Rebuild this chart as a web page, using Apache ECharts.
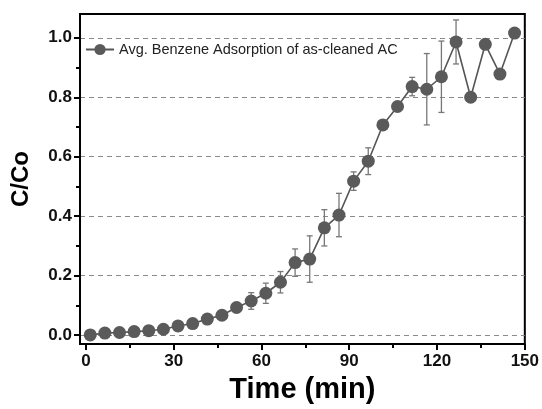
<!DOCTYPE html>
<html>
<head>
<meta charset="utf-8">
<script src="https://cdn.jsdelivr.net/npm/echarts@6/dist/echarts.min.js"></script>
<style>
html,body{margin:0;padding:0;background:#fff;}
#chart{width:542px;height:409px;}
</style>
</head>
<body>
<div id="chart"></div>
<script>
var times = [1.5, 6.5, 11.5, 16.5, 21.5, 26.5, 31.5, 36.5, 41.5, 46.5, 51.5, 56.5, 61.5, 66.5, 71.5, 76.5, 81.5, 86.5, 91.5, 96.5, 101.5, 106.5, 111.5, 116.5, 121.5, 126.5, 131.5, 136.5, 141.5, 146.5];
var ratio = [0.001, 0.007, 0.009, 0.012, 0.015, 0.020, 0.031, 0.039, 0.054, 0.067, 0.093, 0.115, 0.141, 0.178, 0.244, 0.256, 0.361, 0.404, 0.518, 0.585, 0.707, 0.769, 0.836, 0.827, 0.869, 0.986, 0.800, 0.978, 0.878, 1.016];
var errors = [0, 0, 0, 0, 0, 0, 0, 0, 0, 0, 0, 0.028, 0.034, 0.036, 0.046, 0.078, 0.061, 0.073, 0.031, 0.045, 0, 0, 0.031, 0.120, 0.120, 0.074, 0, 0, 0, 0];
var xMajorTicks = [0, 30, 60, 90, 120, 150];
var xMinorTicks = [15, 45, 75, 105, 135];
var yMajorTicks = [0, 0.2, 0.4, 0.6, 0.8, 1.0];
var yMinorTicks = [0.1, 0.3, 0.5, 0.7, 0.9];
var seriesName = 'Avg. Benzene Adsorption of as-cleaned AC';

var lineData = times.map(function (t, i) { return [t, ratio[i]]; });
var errData = times.map(function (t, i) { return [t, ratio[i] - errors[i], ratio[i] + errors[i]]; });

var FONT = '"Liberation Sans", Arial, sans-serif';
var chart = echarts.init(document.getElementById('chart'), null, {renderer: 'canvas'});

var xBase = {
  type: 'value', min: -2, max: 150, position: 'bottom'
};
var yBase = {
  type: 'value', min: -0.03, max: 1.08, position: 'left'
};

chart.setOption({
  animation: false,
  backgroundColor: '#ffffff',
  grid: {
    left: 80, right: 17, top: 14, bottom: 64,
    show: true, borderColor: '#000', borderWidth: 2, backgroundColor: 'transparent'
  },
  legend: {
    show: true,
    left: 85, top: 42, padding: 0,
    itemWidth: 28, itemHeight: 14, itemGap: 5,
    data: [seriesName],
    textStyle: {fontFamily: FONT, fontSize: 14.5, color: '#222'}
  },
  xAxis: [
    Object.assign({}, xBase, {
      name: 'Time (min)', nameLocation: 'middle', nameGap: 27,
      nameTextStyle: {fontFamily: FONT, fontSize: 29, fontWeight: 'bold', color: '#000'},
      axisLine: {show: true, onZero: false, lineStyle: {color: '#000', width: 2}},
      axisTick: {show: true, inside: false, length: 6, customValues: xMajorTicks, lineStyle: {color: '#000', width: 2}},
      axisLabel: {show: true, customValues: xMajorTicks, margin: 9, fontFamily: FONT, fontSize: 17, fontWeight: 'bold', color: '#111'},
      splitLine: {show: false}
    }),
    Object.assign({}, xBase, {
      axisLine: {show: false, onZero: false},
      axisTick: {show: true, inside: false, length: 4, customValues: xMinorTicks, lineStyle: {color: '#000', width: 2}},
      axisLabel: {show: false},
      splitLine: {show: false}
    })
  ],
  yAxis: [
    Object.assign({}, yBase, {
      name: 'C/Co', nameLocation: 'middle', nameGap: 47,
      nameTextStyle: {fontFamily: FONT, fontSize: 24, fontWeight: 'bold', color: '#000'},
      axisLine: {show: true, onZero: false, lineStyle: {color: '#000', width: 2}},
      axisTick: {show: true, inside: false, length: 6, customValues: yMajorTicks, lineStyle: {color: '#000', width: 2}},
      axisLabel: {show: true, customValues: yMajorTicks, margin: 8, fontFamily: FONT, fontSize: 17, fontWeight: 'bold', color: '#111',
        formatter: function (v) { return v.toFixed(1); }},
      splitLine: {show: true, lineStyle: {color: '#8a8a8a', width: 1, type: [5, 4]}}
    }),
    Object.assign({}, yBase, {
      axisLine: {show: false, onZero: false},
      axisTick: {show: true, inside: false, length: 4, customValues: yMinorTicks, lineStyle: {color: '#000', width: 2}},
      axisLabel: {show: false},
      splitLine: {show: false}
    })
  ],
  series: [
    {
      type: 'custom',
      name: 'err',
      xAxisIndex: 0, yAxisIndex: 0,
      z: 1,
      data: errData,
      renderItem: function (params, api) {
        var x = api.value(0), lo = api.value(1), hi = api.value(2);
        if (hi - lo <= 0) { return null; }
        var pLo = api.coord([x, lo]);
        var pHi = api.coord([x, hi]);
        var w = 3;
        var style = {stroke: '#777', lineWidth: 1.3};
        return {
          type: 'group',
          children: [
            {type: 'line', shape: {x1: pLo[0], y1: pLo[1], x2: pHi[0], y2: pHi[1]}, style: style},
            {type: 'line', shape: {x1: pLo[0] - w, y1: pLo[1], x2: pLo[0] + w, y2: pLo[1]}, style: style},
            {type: 'line', shape: {x1: pHi[0] - w, y1: pHi[1], x2: pHi[0] + w, y2: pHi[1]}, style: style}
          ]
        };
      }
    },
    {
      type: 'line',
      name: seriesName,
      xAxisIndex: 0, yAxisIndex: 0,
      z: 3,
      data: lineData,
      symbol: 'circle',
      symbolSize: 13,
      showAllSymbol: true,
      lineStyle: {color: '#555', width: 1.6},
      itemStyle: {color: '#5a5a5a', borderWidth: 0}
    }
  ]
});
</script>
</body>
</html>
